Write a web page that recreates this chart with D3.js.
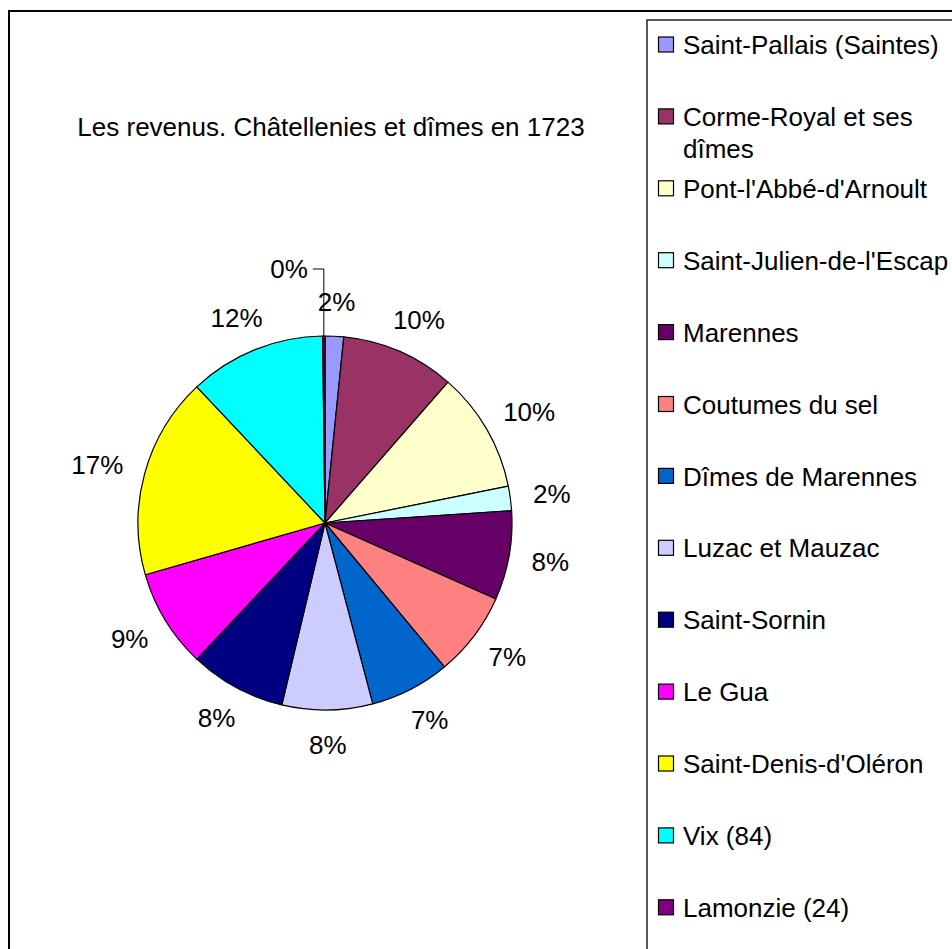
<!DOCTYPE html>
<html>
<head>
<meta charset="utf-8">
<script src="https://cdn.jsdelivr.net/npm/d3@7"></script>
<style>
  html, body { margin: 0; padding: 0; background: #fff; }
  svg { display: block; }
  text { font-family: "Liberation Sans", Arial, sans-serif; fill: #000; }
</style>
</head>
<body>
<svg id="chart" width="952" height="949"></svg>
<script>
const title = "Les revenus. Châtellenies et dîmes en 1723";
const categories = [
  "Saint-Pallais (Saintes)",
  "Corme-Royal et ses dîmes",
  "Pont-l'Abbé-d'Arnoult",
  "Saint-Julien-de-l'Escap",
  "Marennes",
  "Coutumes du sel",
  "Dîmes de Marennes",
  "Luzac et Mauzac",
  "Saint-Sornin",
  "Le Gua",
  "Saint-Denis-d'Oléron",
  "Vix (84)",
  "Lamonzie (24)"
];
// legend lines (wrapped as in the original)
const legendLines = [
  ["Saint-Pallais (Saintes)"],
  ["Corme-Royal et ses", "dîmes"],
  ["Pont-l'Abbé-d'Arnoult"],
  ["Saint-Julien-de-l'Escap"],
  ["Marennes"],
  ["Coutumes du sel"],
  ["Dîmes de Marennes"],
  ["Luzac et Mauzac"],
  ["Saint-Sornin"],
  ["Le Gua"],
  ["Saint-Denis-d'Oléron"],
  ["Vix (84)"],
  ["Lamonzie (24)"]
];
const values = [1.6, 9.8, 10.4, 2.1, 7.7, 7.3, 6.9, 7.8, 8.3, 8.5, 17.4, 11.8, 0.2];
const colors = ["#9999FF", "#993366", "#FFFFCC", "#CCFFFF", "#660066", "#FF8080",
                "#0066CC", "#CCCCFF", "#000080", "#FF00FF", "#FFFF00", "#00FFFF", "#800080"];

const svg = d3.select("#chart");
const FONT = 26;

// outer chart border
svg.append("rect").attr("x", 9).attr("y", 11).attr("width", 1000).attr("height", 1000)
  .attr("fill", "#fff").attr("stroke", "#000").attr("stroke-width", 2);

// title
svg.append("text").attr("x", 331).attr("y", 127).attr("dy", "0.35em")
  .attr("text-anchor", "middle").style("font-size", FONT + "px").text(title);

// pie
const cx = 325, cy = 523, R = 187;
const total = d3.sum(values);
const pct = d3.format(".0%");
const color = d3.scaleOrdinal().domain(categories).range(colors);
const pie = d3.pie().sort(null).value(d => d.value);
const data = categories.map((c, i) => ({ name: c, value: values[i] }));
const arcs = pie(data);
const arc = d3.arc().innerRadius(0).outerRadius(R);

const g = svg.append("g").attr("transform", `translate(${cx},${cy})`);
g.selectAll("path.slice").data(arcs).enter().append("path")
  .attr("class", "slice")
  .attr("d", arc)
  .attr("fill", d => color(d.data.name))
  .attr("stroke", "#000").attr("stroke-width", 1.2).attr("stroke-linejoin", "round");

// labels
const r0 = R + 23;
arcs.forEach(d => {
  const p = d.data.value / total;
  const a = (d.startAngle + d.endAngle) / 2;
  const s = Math.sin(a), c = Math.cos(a);
  const label = pct(p);
  if (p < 0.005) {
    // leader-line label (moved above the pie)
    const ex = R * s, ey = -R * c;
    const ly = -R - 67;
    g.append("path")
      .attr("d", `M${ex},${ey}V${ly}H${ex - 11}`)
      .attr("fill", "none").attr("stroke", "#000").attr("stroke-width", 1);
    g.append("text").attr("x", ex - 16).attr("y", ly).attr("dy", "0.35em")
      .attr("text-anchor", "end").style("font-size", FONT + "px").text(label);
    return;
  }
  const t = g.append("text").style("font-size", FONT + "px").attr("text-anchor", "middle")
    .attr("dy", "0.35em").text(label);
  const w = t.node().getComputedTextLength();
  const h = FONT * 0.9;
  t.attr("x", s * (r0 + w / 2)).attr("y", -c * (r0 + h / 2));
});

// legend
svg.append("rect").attr("x", 647).attr("y", 20).attr("width", 400).attr("height", 1000)
  .attr("fill", "#fff").attr("stroke", "#000").attr("stroke-width", 1.3);

const ly0 = 45, step = 71.9;
const leg = svg.append("g");
categories.forEach((c, i) => {
  const y = ly0 + i * step;
  leg.append("rect").attr("x", 658.5).attr("y", y - 8).attr("width", 15).attr("height", 15)
    .attr("fill", color(c)).attr("stroke", "#000").attr("stroke-width", 1.2);
  legendLines[i].forEach((line, j) => {
    leg.append("text").attr("x", 683).attr("y", y + j * 32).attr("dy", "0.35em")
      .style("font-size", FONT + "px").text(line);
  });
});
</script>
</body>
</html>
